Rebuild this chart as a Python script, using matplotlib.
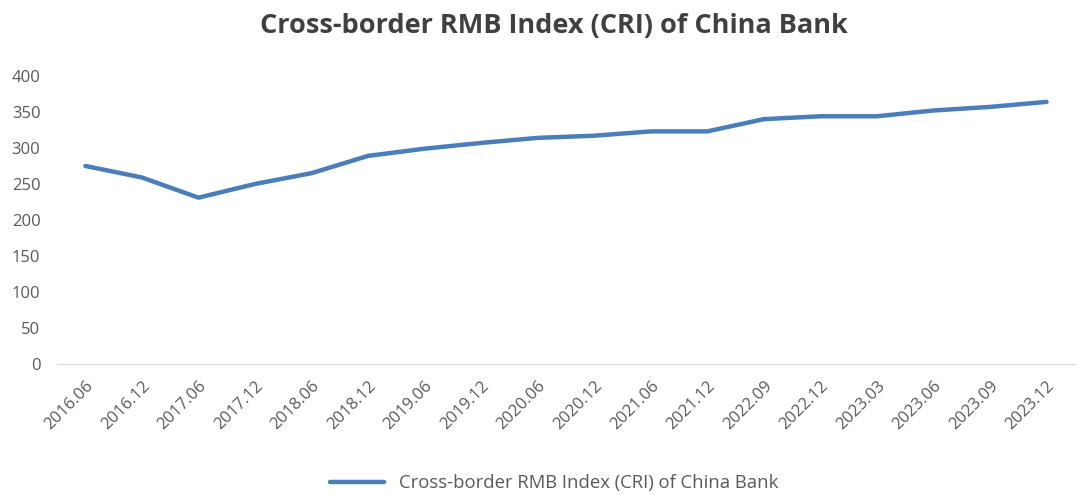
import numpy as np
import matplotlib.pyplot as plt

plt.rcParams['font.family'] = ['Open Sans', 'DejaVu Sans']

# data
periods = ['2016.06', '2016.12', '2017.06', '2017.12', '2018.06', '2018.12',
           '2019.06', '2019.12', '2020.06', '2020.12', '2021.06', '2021.12',
           '2022.09', '2022.12', '2023.03', '2023.06', '2023.09', '2023.12']
cri = [275, 259, 231, 250, 265, 289, 299, 307, 314, 317, 323, 323,
       340, 344, 344, 352, 357, 364]

fig = plt.figure(figsize=(10.78, 4.95), dpi=100)
ax = fig.add_axes([0.053, 0.2646, 0.944, 0.582])

x = np.arange(len(periods))
ax.plot(x, cri, color='#4a7ebb', lw=3.2, solid_capstyle='round',
        label='Cross-border RMB Index (CRI) of China Bank')

ax.set_xlim(-0.5, len(periods) - 0.5)
ax.set_ylim(0, 400)
ax.set_yticks(np.arange(0, 401, 50))
ax.set_xticks(x)
ax.set_xticklabels(periods, rotation=45, ha='right', rotation_mode='anchor')
ax.tick_params(axis='both', length=0, labelsize=12, labelcolor='#595959')
ax.tick_params(axis='x', pad=10)
ax.tick_params(axis='y', pad=12)

#remove frame
for s in ['top', 'right', 'left']:
    ax.spines[s].set_visible(False)
ax.spines['bottom'].set_color('#d9d9d9')

fig.text(0.514, 0.947, 'Cross-border RMB Index (CRI) of China Bank', ha='center',
         va='center', fontsize=19.5, fontweight='bold', color='#404040')

fig.legend(loc='center', bbox_to_anchor=(0.514, 0.024), frameon=False,
           fontsize=13.3, labelcolor='#595959', handlelength=2.9)

fig.savefig('out.png', dpi=100)
